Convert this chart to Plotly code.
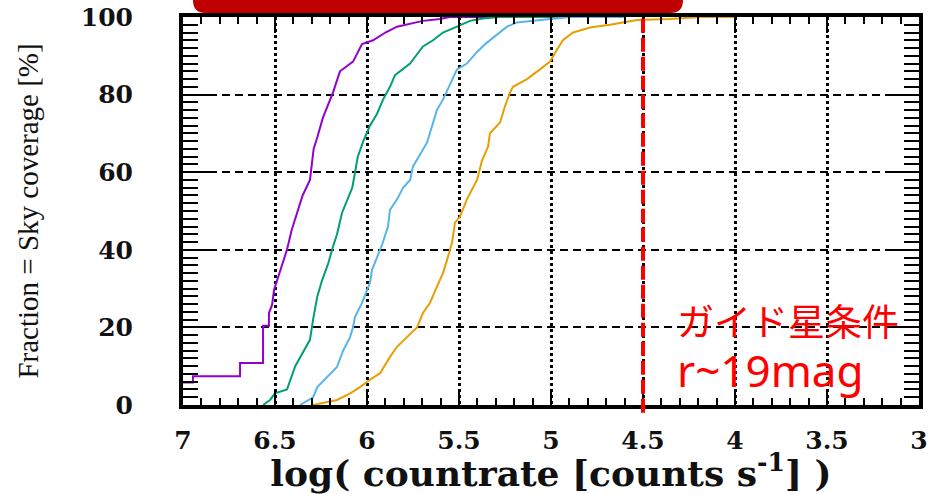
import plotly.graph_objects as go

# ---------------- data ----------------
x_tick_start, x_tick_step = 3, 0.5
y_tick_start, y_tick_step = 0, 20

purple_x = [7.0, 6.946, 6.946, 6.69, 6.69, 6.565, 6.565, 6.533, 6.533, 6.516, 6.505, 6.49,
            6.46, 6.435, 6.41, 6.375, 6.35, 6.31, 6.29, 6.27, 6.24, 6.185, 6.147, 6.076,
            6.027, 5.967, 5.90, 5.837, 5.696, 5.603, 5.55, 5.2]
purple_y = [5.8, 5.8, 7.4, 7.4, 10.8, 10.8, 20.4, 20.4, 23.7, 25.8, 29.7, 32.0,
            36.0, 40.0, 45.0, 50.0, 54.0, 58.0, 66.0, 69.0, 74.0, 80.5, 86.0, 88.5,
            93.0, 94.0, 96.0, 97.5, 99.0, 99.5, 100.0, 100.0]

green_x = [6.565, 6.527, 6.5, 6.435, 6.39, 6.35, 6.31, 6.293, 6.27, 6.245, 6.21, 6.185,
           6.163, 6.136, 6.114, 6.08, 6.065, 6.05, 6.02, 5.984, 5.946, 5.913, 5.875, 5.848,
           5.766, 5.696, 5.641, 5.587, 5.511, 5.44, 5.37, 5.277, 4.9]
green_y = [0.0, 1.3, 3.0, 4.0, 10.0, 13.4, 16.8, 22.0, 28.0, 32.0, 36.6, 40.8,
           44.0, 49.5, 52.0, 56.0, 60.0, 64.0, 68.0, 72.0, 75.0, 78.7, 82.0, 85.0,
           88.0, 92.4, 94.0, 96.0, 97.5, 99.0, 99.6, 100.0, 100.0]

blue_x = [6.364, 6.293, 6.27, 6.217, 6.163, 6.13, 6.092, 6.076, 6.065, 6.027, 6.0, 5.984,
          5.973, 5.946, 5.918, 5.886, 5.875, 5.837, 5.804, 5.766, 5.75, 5.674, 5.641, 5.62,
          5.587, 5.565, 5.533, 5.511, 5.457, 5.402, 5.348, 5.277, 5.239, 5.185, 5.114, 5.005,
          4.897, 4.6]
blue_y = [0.0, 2.0, 4.6, 7.2, 9.8, 14.0, 17.5, 20.0, 22.7, 26.3, 29.7, 31.5,
          34.8, 38.0, 41.3, 46.0, 50.3, 53.0, 56.0, 58.0, 61.5, 67.6, 72.8, 76.0,
          78.7, 81.0, 84.6, 86.5, 88.0, 91.0, 93.4, 96.0, 97.5, 98.6, 99.0, 99.5,
          100.0, 100.0]

orange_x = [6.293, 6.163, 6.092, 6.038, 5.984, 5.929, 5.875, 5.837, 5.783, 5.728, 5.696, 5.658,
            5.62, 5.587, 5.565, 5.538, 5.522, 5.495, 5.457, 5.402, 5.375, 5.342, 5.332, 5.277,
            5.25, 5.223, 5.207, 5.13, 5.06, 5.005, 4.967, 4.935, 4.88, 4.788, 4.679, 4.587,
            4.533, 4.353, 4.19, 4.0]
orange_y = [0.0, 1.3, 3.0, 4.6, 6.5, 8.2, 12.4, 15.0, 17.5, 20.0, 23.7, 26.3,
            30.5, 34.0, 37.4, 41.8, 47.0, 48.5, 53.0, 58.0, 63.0, 66.6, 70.0, 72.8,
            77.0, 80.5, 82.0, 84.0, 86.5, 88.5, 91.6, 94.0, 96.0, 97.3, 98.0, 98.7,
            99.2, 99.5, 100.0, 100.0]

series = [
    ("purple", purple_x, purple_y, "#9400D3"),
    ("green", green_x, green_y, "#009E73"),
    ("lightblue", blue_x, blue_y, "#56B4E9"),
    ("orange", orange_x, orange_y, "#E69F00"),
]

guide_limit = 4.5
label_line1 = "ガイド星条件"
label_line2 = "r~19mag"

# ---------------- figure ----------------
fig = go.Figure()
for name, xs, ys, col in series:
    fig.add_trace(go.Scatter(x=xs, y=ys, mode="lines", name=name,
                             line=dict(color=col, width=2, shape="linear"),
                             hoverinfo="x+y"))

serif = "DejaVu Serif"

fig.update_xaxes(
    range=[7, 3], tickmode="linear", tick0=x_tick_start, dtick=x_tick_step,
    ticks="inside", ticklen=16, tickwidth=2, tickcolor="black",
    showline=True, linewidth=4, linecolor="black", mirror="ticks",
    showgrid=True, gridcolor="black", gridwidth=2.5, griddash="dot",
    zeroline=False, automargin=False,
    minor=dict(tickmode="linear", tick0=3, dtick=0.1, ticks="inside", ticklen=7,
               tickwidth=2, tickcolor="black", showgrid=False),
    tickfont=dict(family=serif, size=25, color="#111", weight="bold"),
    ticklabelstandoff=10,
    title=dict(text="log( countrate [counts s<sup>-1</sup>] )",
               font=dict(family=serif, size=36, color="#111", weight="bold"), standoff=0),
)
fig.update_yaxes(
    range=[0, 100], tickmode="linear", tick0=y_tick_start, dtick=y_tick_step,
    ticks="inside", ticklen=32, tickwidth=2, tickcolor="black",
    showline=True, linewidth=4, linecolor="black", mirror="ticks",
    showgrid=True, gridcolor="black", gridwidth=1.5, griddash="8px,5px",
    zeroline=False, automargin=False,
    minor=dict(tickmode="linear", tick0=0, dtick=2, ticks="inside", ticklen=15,
               tickwidth=2, tickcolor="black", showgrid=False),
    tickfont=dict(family=serif, size=25, color="#111", weight="bold"),
    ticklabelstandoff=41,
    title=dict(text="Fraction = Sky coverage [%]",
               font=dict(family="Liberation Serif", size=29, color="#111"), standoff=35),
)

# red dashed guide-star limit line
fig.add_shape(type="line", xref="x", yref="paper", x0=guide_limit, x1=guide_limit,
              y0=-0.02, y1=1.0, line=dict(color="#FF0000", width=4, dash="14px,5px"),
              layer="above")

# dark red rounded banner at the very top (cut off by page edge)
x0, x1 = 0.0136, 0.6793
yb, yt = 1.0103, 1.08
rx, ry = 0.017, 0.032
fig.add_shape(type="path", xref="paper", yref="paper",
              path=(f"M {x0},{yt} L {x0},{yb+ry} Q {x0},{yb} {x0+rx},{yb} "
                    f"L {x1-rx},{yb} Q {x1},{yb} {x1},{yb+ry} L {x1},{yt} Z"),
              fillcolor="#C00000", line=dict(width=0), layer="above")

fig.add_annotation(xref="paper", yref="paper", x=0.668, y=0.218, xanchor="left",
                   yanchor="middle", text=label_line1, showarrow=False,
                   font=dict(family="Noto Sans CJK JP", size=37, color="#FF0000"))
fig.add_annotation(xref="paper", yref="paper", x=0.668, y=0.09, xanchor="left",
                   yanchor="middle", text=label_line2, showarrow=False,
                   font=dict(family="Noto Sans", size=44, color="#FF0000"))

fig.update_layout(
    width=933, height=494,
    margin=dict(l=183, r=14, t=17, b=89),
    plot_bgcolor="white", paper_bgcolor="white",
    showlegend=False,
)

fig.write_html("out.html", config={"displayModeBar": False},
               post_script="document.body.style.margin='0';")
